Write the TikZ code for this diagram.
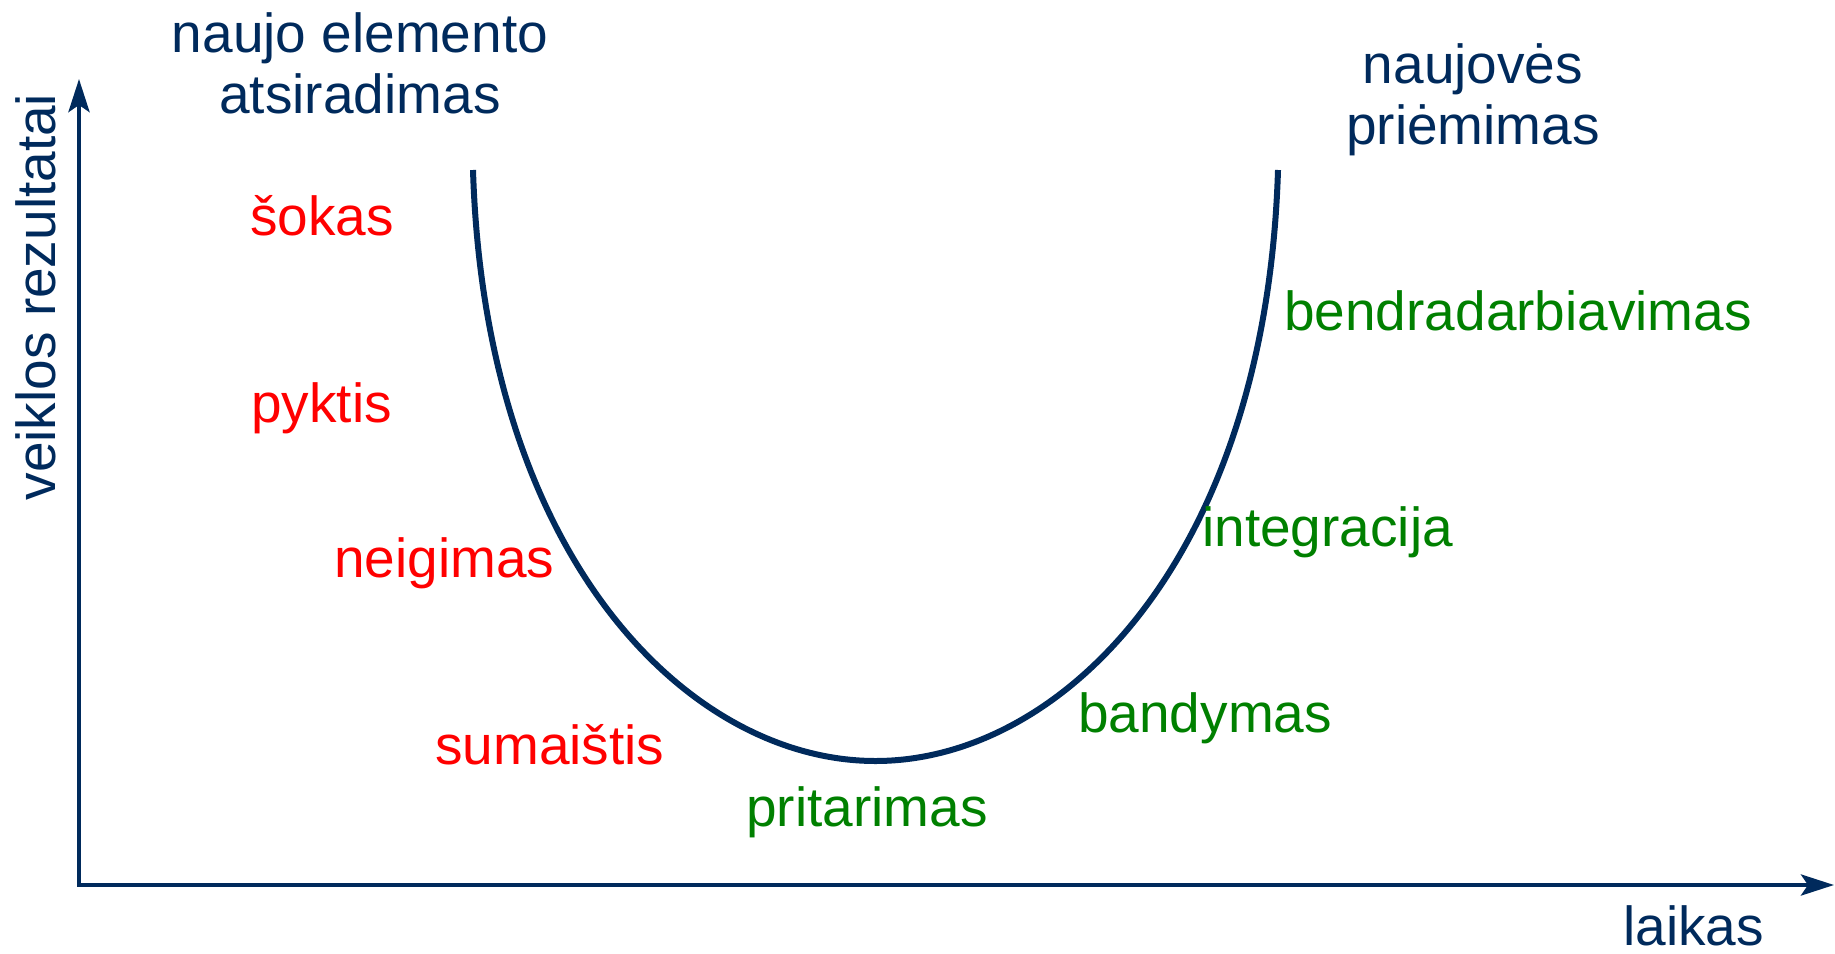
\documentclass[tikz,border=0pt]{standalone}
\usepackage{fontspec}
\setmainfont{Liberation Sans}
\usetikzlibrary{arrows.meta}
\definecolor{navy}{HTML}{002A5C}
\definecolor{redtxt}{HTML}{FF0000}
\definecolor{greentxt}{HTML}{008000}
\begin{document}
\begin{tikzpicture}[x=1pt,y=-1pt,
  lbl/.style={inner sep=0pt, anchor=base west, font=\fontsize{55}{61}\selectfont},
  toplbl/.style={inner sep=0pt, anchor=base, font=\fontsize{55}{61}\selectfont, text=navy},
  neglbl/.style={lbl, text=redtxt},
  poslbl/.style={lbl, text=greentxt},
  axis/.style={draw=navy, line width=4.5pt, {Stealth[length=33pt,width=21pt,inset=7pt]}-{Stealth[length=33pt,width=21pt,inset=7pt]}},
  ucurve/.style={draw=navy, line width=6pt}]
\path[use as bounding box] (0,0) rectangle (1835,953);
% axes
\coordinate (ytip) at (79,79);
\coordinate (xtip) at (1834,885);
\draw[axis] (ytip) |- (xtip);
% curve
\coordinate (cl) at (473,170);
\coordinate (cb) at (875.5,761);
\coordinate (cr) at (1278,170);
\draw[ucurve] (cl) .. controls (485,560) and (690,761) .. (cb)
  .. controls (1061,761) and (1266,560) .. (cr);
% top labels
\node[toplbl] (n1) at (360,52) {naujo elemento};
\node[toplbl] (n2) at (360,113) {atsiradimas};
\node[toplbl] (p1) at (1473,83) {naujovės};
\node[toplbl] (p2) at (1473,144) {priėmimas};
% axis labels
\node[lbl, text=navy] (laikas) at (1623,945) {laikas};
\node[inner sep=0pt, anchor=base, rotate=90, font=\fontsize{55}{61}\selectfont, text=navy] (veik) at (55,297) {veiklos rezultatai};
% negative stages
\node[neglbl] (sokas) at (250,235) {šokas};
\node[neglbl] (pyktis) at (251,422) {pyktis};
\node[neglbl] (neig) at (334,577) {neigimas};
\node[neglbl] (suma) at (435,764) {sumaištis};
% positive stages
\node[poslbl] (prit) at (746,826) {pritarimas};
\node[poslbl] (band) at (1078,732) {bandymas};
\node[poslbl] (integ) at (1202,546) {integracija};
\node[poslbl] (bendr) at (1284,330) {bendradarbiavimas};
\end{tikzpicture}
\end{document}
